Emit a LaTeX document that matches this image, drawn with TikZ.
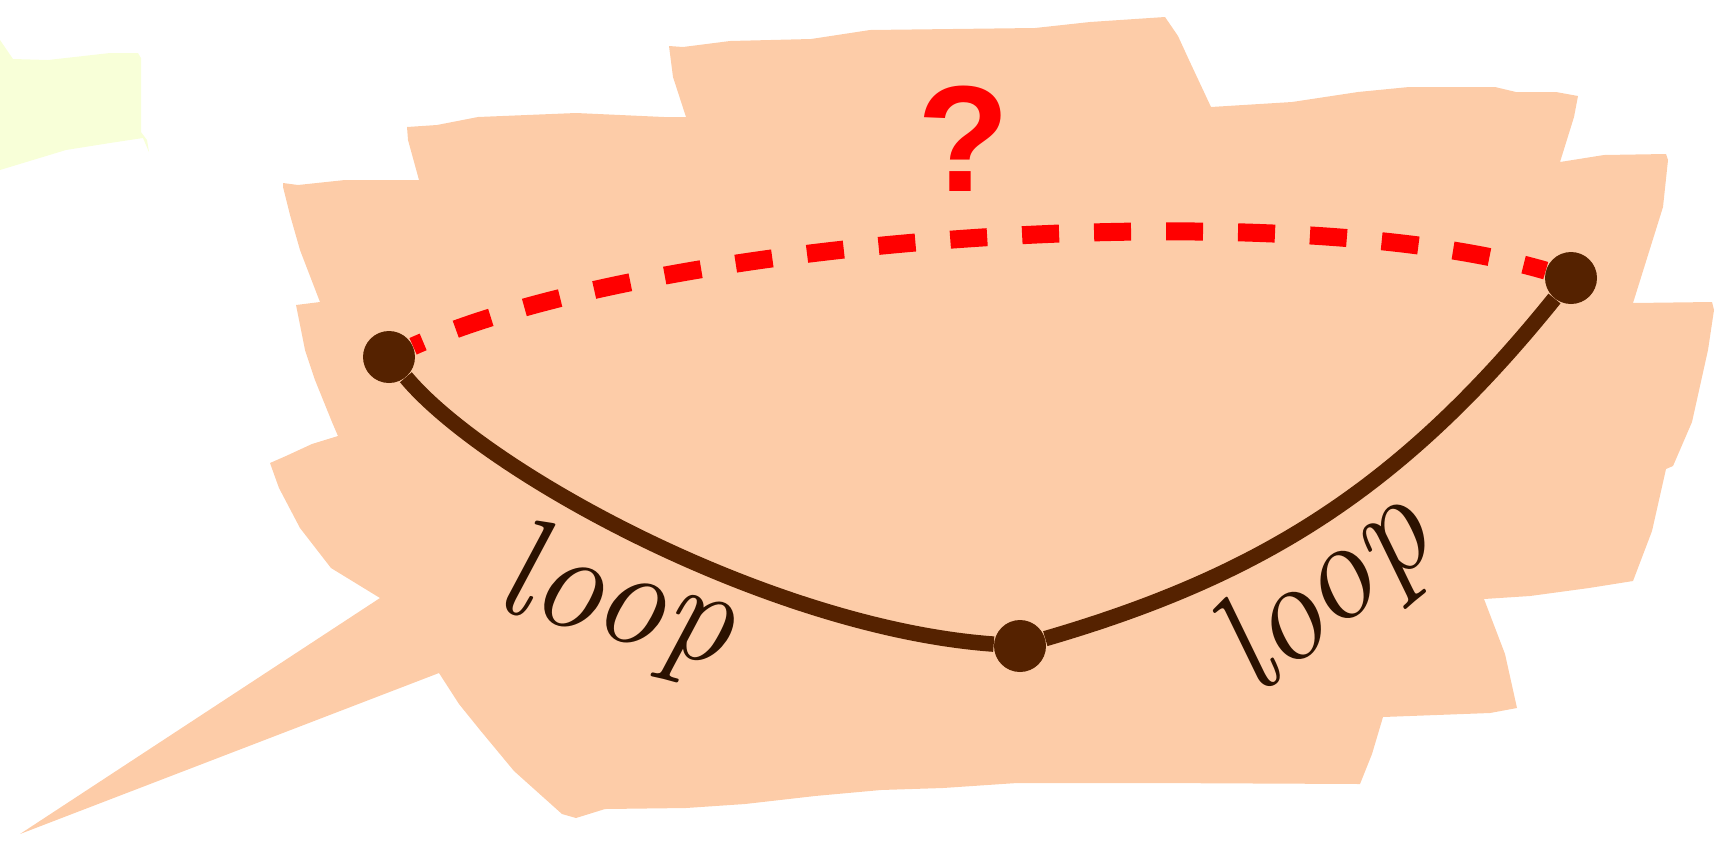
\documentclass[tikz,border=0pt]{standalone}
\usepackage{fontspec}
\usepackage{tikz}
\newfontfamily\qmarkfont{Liberation Sans}
\definecolor{peach}{HTML}{FDCCA8}
\definecolor{lime}{HTML}{F8FFD8}
\definecolor{dotbrown}{HTML}{552200}
\definecolor{txtbrown}{HTML}{2B1100}

\begin{document}
\begin{tikzpicture}[
  x=0.02cm, y=-0.02cm,
  blob/.style={fill=peach},
  dot/.style={circle, fill=dotbrown, inner sep=0pt, minimum size=1.04cm},
  path/.style={draw=dotbrown, line width=0.31cm},
  guess/.style={draw=red, line width=0.36cm, dash pattern=on 0.74cm off 0.7cm, dash phase=0.52cm},
  lbl/.style={font=\fontsize{80}{80}\selectfont\itshape, text=txtbrown, inner sep=0pt}
]
\useasboundingbox (0,0) rectangle (1728,843);
% background strokes
\fill[lime] (0,40) -- (13,59) -- (48,60) -- (110,53) -- (138,53) -- (141,58) -- (141,132)
  -- (147,140) -- (149,152) -- (143,138) -- (110,143) -- (66,150) -- (0,170) -- cycle;
\fill[blob] (283,183) -- (298,185) -- (345,180) -- (419,180)
  -- (408,140) -- (407,127) -- (437,125) -- (478,117) -- (576,113) -- (664,117) -- (686,117)
  -- (673,77) -- (669,46) -- (683,47) -- (730,41) -- (811,39) -- (870,30) -- (1035,28) -- (1090,22) -- (1165,17)
  -- (1178,36) -- (1189,60) -- (1211,107)
  -- (1292,102) -- (1358,92) -- (1409,87) -- (1495,87) -- (1516,92) -- (1556,92) -- (1578,96)
  -- (1574,117) -- (1560,162)
  -- (1604,155) -- (1666,154) -- (1668,160) -- (1663,207) -- (1633,303)
  -- (1712,302) -- (1714,310) -- (1708,350) -- (1692,422) -- (1673,466)
  -- (1666,469) -- (1652,531) -- (1633,581)
  -- (1589,588) -- (1530,596) -- (1484,599)
  -- (1505,654) -- (1517,708) -- (1490,713) -- (1383,717)
  -- (1372,754) -- (1360,784)
  -- (1152,783) -- (1017,783) -- (943,788) -- (881,790) -- (815,796) -- (745,804) -- (686,808)
  -- (605,809) -- (576,818) -- (562,814)
  -- (514,771) -- (480,730) -- (459,704) -- (439,673)
  -- (20,834) -- (380,598)
  -- (331,568) -- (300,528) -- (279,488) -- (270,463)
  -- (286,456) -- (312,444) -- (338,436)
  -- (332,422) -- (315,380) -- (305,350) -- (296,305)
  -- (320,302) -- (300,250) -- (290,215) -- (283,187) -- cycle;
% states
\node[dot] (start) at (389,357) {};
\node[dot] (low) at (1020,646) {};
\node[dot] (goal) at (1571,278) {};
% connections
\draw[guess] (start) .. controls (663,235) and (1283,194) .. (goal);
\draw[path] (start) .. controls (485,472) and (770,628) .. (low);
\draw[path] (low) .. controls (1260,576) and (1401,489) .. (goal);
\node[text=red, font=\qmarkfont\bfseries\fontsize{86}{86}\selectfont, inner sep=0pt] (qmark) at (964,139) {?};
\node[lbl, rotate=-14] (loopl) at (616,603) {loop};
\node[lbl, rotate=40] (loopr) at (1326,595) {loop};
\end{tikzpicture}
\end{document}
